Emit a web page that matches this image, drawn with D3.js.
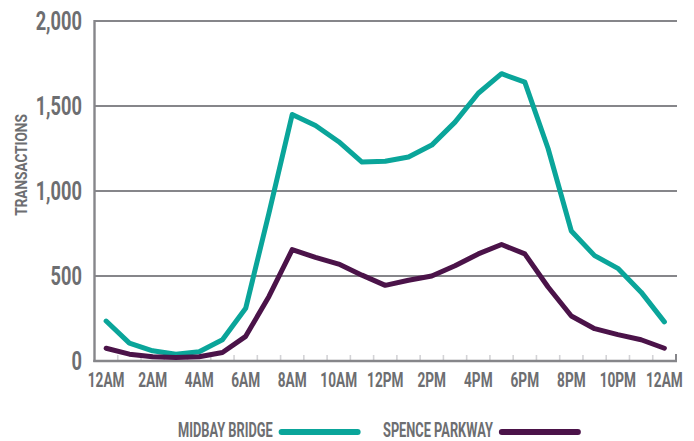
<!DOCTYPE html>
<html>
<head>
<meta charset="utf-8">
<script src="https://cdn.jsdelivr.net/npm/d3@7"></script>
<style>
  html, body { margin: 0; padding: 0; background: #fff; }
  svg { display: block; }
  text { font-family: "Roboto", "Liberation Sans", sans-serif; font-weight: 700; fill: #6d6e71; }
</style>
</head>
<body>
<svg id="chart" width="694" height="441"></svg>
<script>
// Hourly transaction counts, midnight to midnight
const hours = ["12AM","1AM","2AM","3AM","4AM","5AM","6AM","7AM","8AM","9AM","10AM","11AM",
               "12PM","1PM","2PM","3PM","4PM","5PM","6PM","7PM","8PM","9PM","10PM","11PM","12AM"];
const midbayBridge = [235,105,60,40,55,125,310,870,1450,1385,1290,1170,
                      1175,1200,1270,1405,1575,1690,1640,1250,765,620,545,405,230];
const spenceParkway = [75,40,25,20,25,50,145,380,655,610,570,505,
                       445,475,500,560,630,685,630,435,265,190,155,125,75];
const yTicks = [0, 500, 1000, 1500, 2000];
const seriesNames = ["MIDBAY BRIDGE", "SPENCE PARKWAY"];
const seriesColors = ["#0aa59a", "#4b1349"];

const svg = d3.select("#chart");
const axisColor = "#86868a";

// Band scale: ticks sit on category boundaries, points in band centres
const x = d3.scaleBand().domain(d3.range(hours.length)).range([94.5, 676]).padding(0);
const cx = i => x(i) + x.bandwidth() / 2;
const y = d3.scaleLinear().domain([0, 2000]).range([361, 21]);

// Condensed text: place at (px, py), squeeze horizontally by k, optional rotation
function label(parent, str, px, py, size, anchor, k, rot) {
  return parent.append("text")
    .attr("transform", `translate(${px},${py})` + (rot ? ` rotate(${rot})` : "") + ` scale(${k},1)`)
    .attr("text-anchor", anchor)
    .attr("font-size", size)
    .text(str);
}

// Horizontal gridlines
svg.append("g").selectAll("line").data(yTicks.filter(d => d > 0)).join("line")
  .attr("x1", 94.5).attr("x2", 677)
  .attr("y1", d => y(d)).attr("y2", d => y(d))
  .attr("stroke", axisColor).attr("stroke-width", 2.2);

// Minor ticks on the category boundaries
const edges = d3.range(1, hours.length).map(i => x(i));
svg.append("g").selectAll("line").data(edges).join("line")
  .attr("x1", d => d).attr("x2", d => d)
  .attr("y1", y(0)).attr("y2", y(0) - 6)
  .attr("stroke", "#d3d3d6").attr("stroke-width", 1.6);

// End cap tick at the right of the baseline
svg.append("line")
  .attr("x1", x.range()[1]).attr("x2", x.range()[1])
  .attr("y1", y(0) + 1).attr("y2", y(0) - 7)
  .attr("stroke", axisColor).attr("stroke-width", 2);

// Axis lines
svg.append("line").attr("x1", 94.5).attr("x2", 94.5).attr("y1", y(2000) - 1).attr("y2", y(0) + 1)
  .attr("stroke", axisColor).attr("stroke-width", 2.4);
svg.append("line").attr("x1", 93.3).attr("x2", x.range()[1] + 1).attr("y1", y(0)).attr("y2", y(0))
  .attr("stroke", axisColor).attr("stroke-width", 2.4);

// Y tick labels
const yLab = svg.append("g");
yTicks.forEach(d => label(yLab, d3.format(",")(d), 82, y(d) + 9, 25, "end", 0.73));

// X tick labels every two hours
const xLab = svg.append("g");
d3.range(0, hours.length, 2).forEach(i => label(xLab, hours[i], cx(i), 387, 21, "middle", 0.65));

// Y axis title
label(svg, "TRANSACTIONS", 27, 165, 16, "middle", 0.85, -90);

// Series lines
const line = d3.line().x((d, i) => cx(i)).y(d => y(d));
[midbayBridge, spenceParkway].forEach((vals, k) => {
  svg.append("path").datum(vals)
    .attr("d", line)
    .attr("fill", "none")
    .attr("stroke", seriesColors[k])
    .attr("stroke-width", 5)
    .attr("stroke-linejoin", "round")
    .attr("stroke-linecap", "round");
});

// Legend
const legendX = [178, 383];
seriesNames.forEach((name, k) => {
  const t = label(svg, name, legendX[k], 437, 20, "start", 0.64);
  const w = t.node().getComputedTextLength() * 0.64;
  svg.append("line")
    .attr("x1", legendX[k] + w + 9).attr("x2", legendX[k] + w + 85)
    .attr("y1", 432).attr("y2", 432)
    .attr("stroke", seriesColors[k]).attr("stroke-width", 6)
    .attr("stroke-linecap", "round");
});
</script>
</body>
</html>
